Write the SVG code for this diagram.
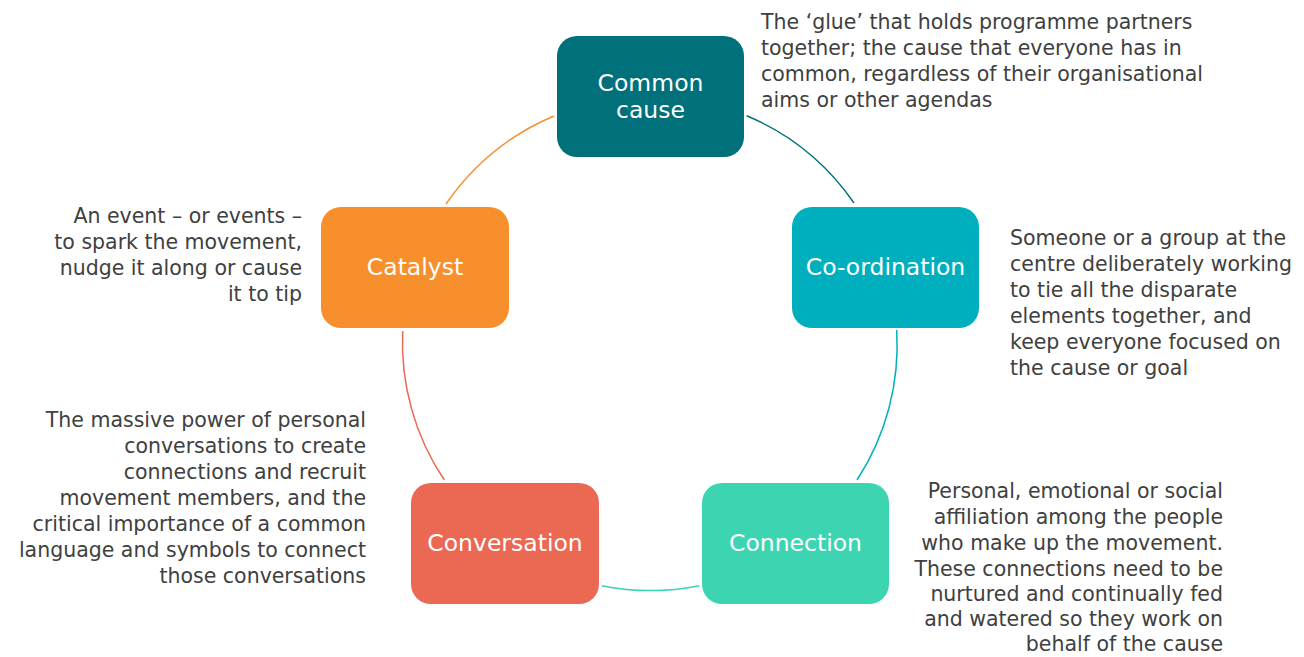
<svg xmlns="http://www.w3.org/2000/svg" width="1304" height="657" viewBox="0 0 1304 657">
<style>
.node-label{font-family:"DejaVu Sans","Liberation Sans",sans-serif;font-size:23.5px;fill:#ffffff;text-anchor:middle}
.desc{font-family:"DejaVu Sans","Liberation Sans",sans-serif;font-size:20.5px;fill:#404040}
.r{text-anchor:end}
.arc{fill:none;stroke-width:1.5}
</style>
<rect width="1304" height="657" fill="#ffffff"/>
<g id="connectors">
<path class="arc" stroke="#00707A" d="M746.7,115.7 A247,247 0 0 1 854,203"/>
<path class="arc" stroke="#00AFBE" d="M896.7,330 A247,247 0 0 1 857,480"/>
<path class="arc" stroke="#3DD5B1" d="M699.3,585.7 A247,247 0 0 1 601.7,585.7"/>
<path class="arc" stroke="#EB6852" d="M444.3,480 A247,247 0 0 1 402.7,331"/>
<path class="arc" stroke="#F7902C" d="M446,204 A247,247 0 0 1 554,116"/>
</g>
<g id="node-common-cause">
<rect x="557" y="36" width="187" height="121" rx="20" fill="#00707A"/>
<text class="node-label" x="650.5" y="91">Common</text>
<text class="node-label" x="650.5" y="118">cause</text>
</g>
<g id="node-coordination">
<rect x="792" y="207" width="187" height="121" rx="20" fill="#00AFBE"/>
<text class="node-label" x="885.5" y="275">Co-ordination</text>
</g>
<g id="node-connection">
<rect x="702" y="483" width="187" height="121" rx="20" fill="#3DD5B1"/>
<text class="node-label" x="795.5" y="551">Connection</text>
</g>
<g id="node-conversation">
<rect x="411" y="483" width="188" height="121" rx="20" fill="#EB6852"/>
<text class="node-label" x="505" y="551">Conversation</text>
</g>
<g id="node-catalyst">
<rect x="321" y="207" width="188" height="121" rx="20" fill="#F7902C"/>
<text class="node-label" x="415" y="275">Catalyst</text>
</g>
<g id="desc-common-cause">
<text class="desc" x="761" y="29">The ‘glue’ that holds programme partners</text>
<text class="desc" x="761" y="55">together; the cause that everyone has in</text>
<text class="desc" x="761" y="81">common, regardless of their organisational</text>
<text class="desc" x="761" y="107">aims or other agendas</text>
</g>
<g id="desc-coordination">
<text class="desc" x="1010" y="245">Someone or a group at the</text>
<text class="desc" x="1010" y="271">centre deliberately working</text>
<text class="desc" x="1010" y="297">to tie all the disparate</text>
<text class="desc" x="1010" y="323">elements together, and</text>
<text class="desc" x="1010" y="349">keep everyone focused on</text>
<text class="desc" x="1010" y="375">the cause or goal</text>
</g>
<g id="desc-connection">
<text class="desc r" x="1223" y="498">Personal, emotional or social</text>
<text class="desc r" x="1223" y="524">affiliation among the people</text>
<text class="desc r" x="1223" y="550">who make up the movement.</text>
<text class="desc r" x="1223" y="576">These connections need to be</text>
<text class="desc r" x="1223" y="601">nurtured and continually fed</text>
<text class="desc r" x="1223" y="626">and watered so they work on</text>
<text class="desc r" x="1223" y="651">behalf of the cause</text>
</g>
<g id="desc-conversation">
<text class="desc r" x="366" y="427">The massive power of personal</text>
<text class="desc r" x="366" y="453">conversations to create</text>
<text class="desc r" x="366" y="479">connections and recruit</text>
<text class="desc r" x="366" y="505">movement members, and the</text>
<text class="desc r" x="366" y="531">critical importance of a common</text>
<text class="desc r" x="366" y="557">language and symbols to connect</text>
<text class="desc r" x="366" y="583">those conversations</text>
</g>
<g id="desc-catalyst">
<text class="desc r" x="302" y="223">An event – or events –</text>
<text class="desc r" x="302" y="249">to spark the movement,</text>
<text class="desc r" x="302" y="275">nudge it along or cause</text>
<text class="desc r" x="302" y="301">it to tip</text>
</g>
</svg>
